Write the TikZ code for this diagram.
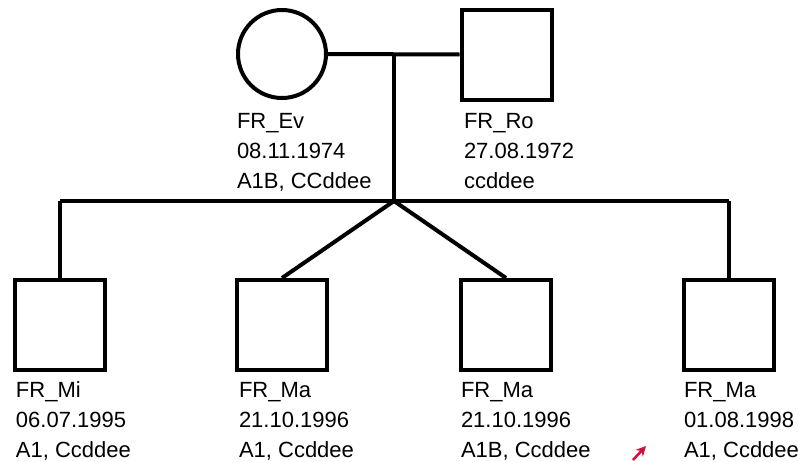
\documentclass[tikz,border=0pt]{standalone}
\usepackage{fontspec}
\setmainfont{Liberation Sans}
\usetikzlibrary{arrows.meta}
\begin{document}
\begin{tikzpicture}[x=1pt,y=-1pt,
  line width=4pt,
  male/.style={draw, rectangle, minimum size=90pt, inner sep=0pt},
  female/.style={draw, circle, minimum size=88pt, inner sep=0pt},
  lbl/.style={anchor=base west, inner sep=0pt, font=\fontsize{22pt}{30pt}\selectfont, align=left},
  link/.style={draw, line width=4pt}]
\useasboundingbox (0,0) rectangle (798,461);
% parents
\node[female] (ev) at (282,54) {};
\node[male] (ro) at (506.5,54.5) {};
% children
\node[male] (c1) at (60,325) {};
\node[male] (c2) at (282,325) {};
\node[male] (c3) at (506,325) {};
\node[male] (c4) at (729,325) {};
% connector points
\coordinate (m) at (394,54);
\coordinate (s) at (394,201);
\coordinate (sl) at (60,201);
\coordinate (sr) at (729,201);
\draw[link] (ev.east) -- (ro.west);
\draw[link] (m) -- (s);
\draw[link] (sl) -- (sr);
\draw[link] (sl) -- (c1.north);
\draw[link] (sr) -- (c4.north);
\draw[link] (s) -- (c2.north);
\draw[link] (s) -- (c3.north);
% labels (anchor = baseline of last line)
\node[lbl] (tev) at (235,188) {FR\_Ev\\08.11.1974\\A1B, CCddee};
\node[lbl] (tro) at (462,188) {FR\_Ro\\27.08.1972\\ccddee};
\node[lbl] (t1) at (14,457) {FR\_Mi\\06.07.1995\\A1, Ccddee};
\node[lbl] (t2) at (237,457) {FR\_Ma\\21.10.1996\\A1, Ccddee};
\node[lbl] (t3) at (459,457) {FR\_Ma\\21.10.1996\\A1B, Ccddee};
\node[lbl] (t4) at (682,457) {FR\_Ma\\01.08.1998\\A1, Ccddee};
% small red arrow
\definecolor{arrred}{RGB}{208,16,58}
\coordinate (ra) at (633,460);
\coordinate (rb) at (646,446);
\draw[arrred, line width=2.5pt, -{Stealth[length=10pt,width=10pt]}] (ra) -- (rb);
\end{tikzpicture}
\end{document}
